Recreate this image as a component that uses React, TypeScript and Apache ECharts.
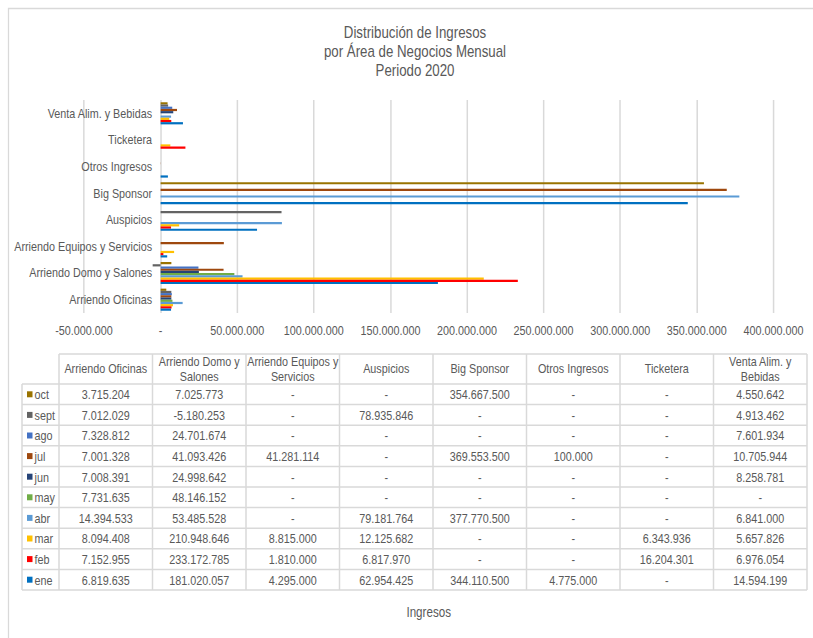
import React, { useEffect, useRef } from "react";
import * as echarts from "echarts";

// The reference is drawn with a condensed face; we render at a wider internal width
// and compress horizontally so that text proportions match.
const S = 0.83;
const W = 813 / S;
const H = 638;
const X = (v: number) => v / S;

const FONT = "'Liberation Sans', Arial, sans-serif";
const TEXT = "#595959";
const LINE = "#d9d9d9";

const titleLines = ["Distribución de Ingresos", "por Área de Negocios Mensual", "Periodo 2020"];
const axisTitle = "Ingresos";

// categories bottom -> top on the chart
const categories = [
  "Arriendo Oficinas",
  "Arriendo Domo y Salones",
  "Arriendo Equipos y Servicios",
  "Auspicios",
  "Big Sponsor",
  "Otros Ingresos",
  "Ticketera",
  "Venta Alim. y Bebidas",
];
const tableHeaders = [
  "Arriendo Oficinas",
  "Arriendo Domo y\nSalones",
  "Arriendo Equipos y\nServicios",
  "Auspicios",
  "Big Sponsor",
  "Otros Ingresos",
  "Ticketera",
  "Venta Alim. y\nBebidas",
];

const xMin = -50000000;
const xMax = 400000000;
const xInterval = 50000000;

// months in table order (top -> bottom)
const months = ["oct", "sept", "ago", "jul", "jun", "may", "abr", "mar", "feb", "ene"];
const monthColors = ["#997300", "#636363", "#4472c4", "#9e480e", "#264478", "#70ad47", "#5b9bd5", "#ffc000", "#ff0000", "#0070c0"];

const oct = [3715204, 7025773, 0, 0, 354667500, 0, 0, 4550642];
const sept = [7012029, -5180253, 0, 78935846, 0, 0, 0, 4913462];
const ago = [7328812, 24701674, 0, 0, 0, 0, 0, 7601934];
const jul = [7001328, 41093426, 41281114, 0, 369553500, 100000, 0, 10705944];
const jun = [7008391, 24998642, 0, 0, 0, 0, 0, 8258781];
const may = [7731635, 48146152, 0, 0, 0, 0, 0, 0];
const abr = [14394533, 53485528, 0, 79181764, 377770500, 0, 0, 6841000];
const mar = [8094408, 210948646, 8815000, 12125682, 0, 0, 6343936, 5657826];
const feb = [7152955, 233172785, 1810000, 6817970, 0, 0, 16204301, 6976054];
const ene = [6819635, 181020057, 4295000, 62954425, 344110500, 4775000, 0, 14594199];

const monthValues = [oct, sept, ago, jul, jun, may, abr, mar, feb, ene];

function fmt(v: number): string {
  if (v === 0) return "-";
  const s = Math.abs(Math.round(v)).toString().replace(/\B(?=(\d{3})+(?!\d))/g, ".");
  return (v < 0 ? "-" : "") + s;
}

// plot area (target pixels)
const GRID_L = 84;
const GRID_R = 773;
const ZERO_OFFSET = ((GRID_R - GRID_L) * (0 - xMin)) / (xMax - xMin);

// table layout (target pixels)
const TBL_X0 = 59;
const COL_W = 93.5;
const KEY_X0 = 22;
const HEAD_Y0 = 354;
const HEAD_H = 30;
const ROW_H = 20.6;

function buildTable(): any[] {
  const els: any[] = [];
  const nCols = tableHeaders.length;
  const rowsTop = HEAD_Y0 + HEAD_H;
  const tableBottom = rowsTop + ROW_H * months.length;
  const right = TBL_X0 + COL_W * nCols;
  const ls = { stroke: LINE, lineWidth: 1.5 };
  const vs = { stroke: LINE, lineWidth: 1.5 / S };
  els.push({ type: "line", shape: { x1: X(TBL_X0), y1: HEAD_Y0, x2: X(right), y2: HEAD_Y0 }, style: ls, silent: true });
  for (let c = 0; c <= nCols; c++) {
    const x = X(TBL_X0 + COL_W * c);
    els.push({ type: "line", shape: { x1: x, y1: HEAD_Y0, x2: x, y2: tableBottom }, style: vs, silent: true });
  }
  els.push({ type: "line", shape: { x1: X(KEY_X0), y1: rowsTop, x2: X(KEY_X0), y2: tableBottom }, style: vs, silent: true });
  for (let r = 0; r <= months.length; r++) {
    const y = rowsTop + ROW_H * r;
    els.push({ type: "line", shape: { x1: X(KEY_X0), y1: y, x2: X(right), y2: y }, style: ls, silent: true });
  }
  tableHeaders.forEach((h, c) => {
    els.push({
      type: "text",
      x: X(TBL_X0 + COL_W * (c + 0.5)),
      y: HEAD_Y0 + HEAD_H / 2,
      silent: true,
      style: { text: h, fill: TEXT, font: `13px ${FONT}`, align: "center", verticalAlign: "middle", lineHeight: 14.5 },
    });
  });
  months.forEach((m, r) => {
    const cy = rowsTop + ROW_H * (r + 0.5);
    els.push({ type: "rect", shape: { x: X(27), y: cy - 3, width: X(5.5), height: 6 }, style: { fill: monthColors[r] }, silent: true });
    els.push({
      type: "text", x: X(34.5), y: cy + 0.5, silent: true,
      style: { text: m, fill: TEXT, font: `13px ${FONT}`, align: "left", verticalAlign: "middle" },
    });
    monthValues[r].forEach((v, c) => {
      els.push({
        type: "text", x: X(TBL_X0 + COL_W * (c + 0.5)), y: cy + 0.5, silent: true,
        style: { text: fmt(v), fill: TEXT, font: `13px ${FONT}`, align: "center", verticalAlign: "middle" },
      });
    });
  });
  return els;
}

export default function App() {
  const ref = useRef<HTMLDivElement>(null);
  useEffect(() => {
    document.body.style.margin = "0";
    if (!ref.current) return;
    const chart = echarts.init(ref.current, undefined, { renderer: "svg" });
    const option: any = {
      animation: false,
      backgroundColor: "#ffffff",
      title: {
        text: titleLines.join("\n"),
        left: X(415),
        top: 23,
        padding: 0,
        textAlign: "center",
        textStyle: { fontFamily: FONT, fontSize: 16, fontWeight: "normal", color: TEXT, lineHeight: 19 },
      },
      grid: {
        left: X(GRID_L),
        right: X(813 - GRID_R),
        top: 100,
        bottom: 325,
        containLabel: false,
        outerBoundsMode: "none",
      },
      xAxis: {
        type: "value",
        min: xMin,
        max: xMax,
        interval: xInterval,
        name: axisTitle,
        nameLocation: "middle",
        nameGap: 292,
        nameTextStyle: { fontFamily: FONT, fontSize: 14, color: TEXT },
        axisLine: { show: false },
        axisTick: { show: false },
        splitLine: { show: true, lineStyle: { color: LINE, width: 1.5 / S } },
        axisLabel: { formatter: (v: number) => fmt(v), fontFamily: FONT, fontSize: 13, color: TEXT, margin: 11 },
      },
      yAxis: {
        type: "category",
        data: categories,
        position: "left",
        offset: -X(ZERO_OFFSET),
        axisLine: { show: false, onZero: false },
        axisTick: { show: false },
        splitLine: { show: false },
        axisLabel: { fontFamily: FONT, fontSize: 13, color: TEXT, margin: X(8.5) },
      },
      series: months.map((m, i) => ({
        name: m,
        type: "bar",
        data: monthValues[i],
        itemStyle: { color: monthColors[i] },
        barGap: "0%",
        barCategoryGap: "17%",
      })),
      graphic: [
        {
          type: "rect",
          shape: { x: X(8.5), y: 8.5, width: X(820), height: 650 },
          style: { fill: "none", stroke: LINE, lineWidth: 1.5 },
          silent: true,
          z: -1,
        },
        ...buildTable(),
      ],
    };
    chart.setOption(option);
    return () => chart.dispose();
  }, []);
  return (
    <div style={{ width: 813, height: H, overflow: "hidden" }}>
      <div ref={ref} style={{ width: W, height: H, transform: `scaleX(${S})`, transformOrigin: "0 0" }} />
    </div>
  );
}
